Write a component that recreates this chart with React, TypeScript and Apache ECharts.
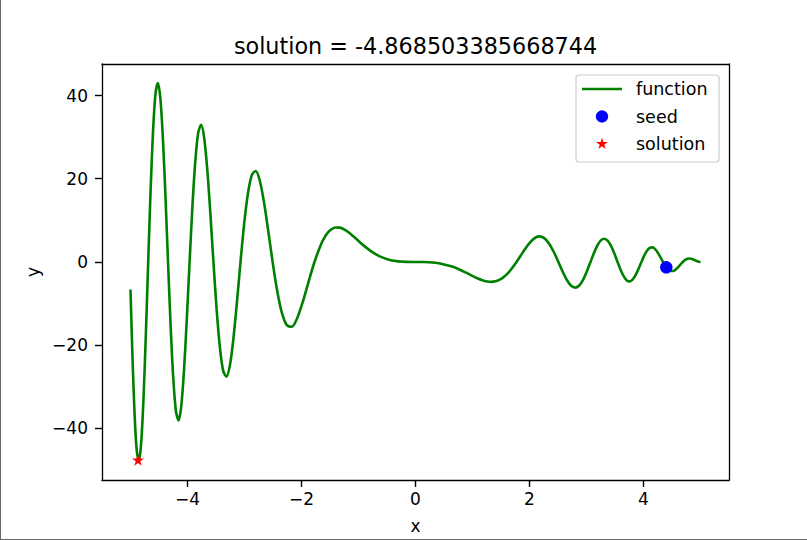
import React, { useEffect, useRef } from "react";
import * as echarts from "echarts";

// ---- data ----
const curveX: number[] = [
  -5.0, -4.974, -4.9343, -4.8944, -4.8541, -4.8135, -4.7725, -4.7312, -4.6895, -4.6474,
  -4.605, -4.5621, -4.5189, -4.4753, -4.4312, -4.3866, -4.3416, -4.2962, -4.2502, -4.2038,
  -4.1568, -4.1093, -4.0612, -4.0126, -3.9633, -3.9135, -3.863, -3.8118, -3.7599, -3.7074,
  -3.654, -3.5999, -3.5449, -3.4891, -3.4323, -3.3747, -3.316, -3.2562, -3.1953, -3.1333,
  -3.07, -3.0054, -2.9393, -2.8717, -2.8025, -2.7315, -2.6587, -2.5838, -2.5066, -2.427,
  -2.3447, -2.2594, -2.1708, -2.0784, -1.9817, -1.88, -1.7725, -1.658, -1.6, -1.535,
  -1.47, -1.4012, -1.33, -1.2533, -1.17, -1.0854, -0.98, -0.8862, -0.75, -0.6267,
  -0.45, -0.3, -0.15, 0, 0.15, 0.3, 0.45, 0.6267, 0.75, 0.8862,
  0.98, 1.0854, 1.17, 1.2533, 1.33, 1.4012, 1.47, 1.535, 1.6, 1.658,
  1.7725, 1.88, 1.9817, 2.0784, 2.1708, 2.2594, 2.3447, 2.427, 2.5066, 2.5838,
  2.6587, 2.7315, 2.8025, 2.8717, 2.9393, 3.0054, 3.07, 3.1333, 3.1953, 3.2562,
  3.316, 3.3747, 3.4323, 3.4891, 3.5449, 3.5999, 3.654, 3.7074, 3.7599, 3.8118,
  3.863, 3.9135, 3.9633, 4.0126, 4.0612, 4.1093, 4.1568, 4.2038, 4.2502, 4.2962,
  4.3416, 4.3866, 4.4312, 4.4753, 4.5189, 4.5621, 4.605, 4.6474, 4.6895, 4.7312,
  4.7725, 4.8135, 4.8541, 4.8944, 4.9343, 4.974, 5.0,
];
const curveY: number[] = [
  -6.617, -18.986, -34.661, -44.742, -47.833, -43.642, -32.978, -17.62, 0, 17.159,
  31.276, 40.304, 43.015, 39.177, 29.551, 15.758, 0, -15.284, -27.8, -35.746,
  -38.063, -34.584, -26.021, -13.84, 0, 13.35, 24.21, 31.033, 32.937, 29.825,
  22.36, 11.848, 0, -11.335, -20.466, -26.111, -27.576, -24.838, -18.517, -9.753,
  0, 9.207, 16.501, 20.885, 21.867, 19.512, 14.398, 7.499, 0, -6.898,
  -12.177, -15.154, -15.566, -13.592, -9.783, -4.95, 0, 4.225, 5.801, 7.093,
  7.899, 8.287, 8.255, 7.837, 7.072, 6.102, 4.803, 3.689, 2.3, 1.349,
  0.493, 0.143, 0.017, 0, -0.016, -0.127, -0.412, -1.049, -1.7, -2.578,
  -3.228, -3.926, -4.39, -4.696, -4.786, -4.659, -4.31, -3.761, -2.988, -2.121,
  0, 2.245, 4.23, 5.61, 6.142, 5.721, 4.402, 2.39, 0, -2.389,
  -4.402, -5.725, -6.159, -5.647, -4.283, -2.294, 0, 2.238, 4.077, 5.246,
  5.584, 5.068, 3.805, 2.018, 0, -1.929, -3.478, -4.428, -4.662, -4.184,
  -3.106, -1.627, 0, 1.516, 2.696, 3.382, 3.505, 3.093, 2.254, 1.157,
  0, -1.03, -1.783, -2.17, -2.174, -1.845, -1.286, -0.627, 0, 0.487,
  0.768, 0.83, 0.709, 0.478, 0.229, 0.05, 0,
];
const seedPoint: number[] = [4.4, -1.29];
const solutionPoint: number[] = [-4.868503385668744, -47.56];
const titleText = "solution = -4.868503385668744";
const xTicks: number[] = [-4, -2, 0, 2, 4];
const yTicks: number[] = [-40, -20, 0, 20, 40];
const xRange: number[] = [-5.5, 5.5];
const yRange: number[] = [-52.39, 47.57];
const legendNames: string[] = ["function", "seed", "solution"];

const FONT = "DejaVu Sans";
const STAR_PATH =
  "path://M50 0 L61.23 34.55 L97.55 34.55 L68.16 55.9 L79.39 90.45 L50 69.1 L20.61 90.45 L31.84 55.9 L2.45 34.55 L38.77 34.55 Z";

const fmt = (v: number) => (v < 0 ? "\u2212" + Math.abs(v) : String(v));

export default function App() {
  const ref = useRef<HTMLDivElement>(null);
  useEffect(() => {
    if (!ref.current) return;
    const chart = echarts.init(ref.current, undefined, { renderer: "svg" });
    const curve = curveX.map((x, i) => [x, curveY[i]]);
    const lx = 582, ly = 89, rowGap = 27.5;
    const spine = { color: "#000", width: 1.3 };
    const tick = { show: true, length: 7, inside: false, lineStyle: { color: "#000", width: 1.4 } };
    chart.setOption({
      animation: false,
      backgroundColor: "#ffffff",
      grid: {
        left: 102,
        right: 78,
        top: 64,
        bottom: 60,
        containLabel: false,
      },
      xAxis: [
        {
          type: "value",
          min: xRange[0],
          max: xRange[1],
          position: "bottom",
          name: "x",
          nameLocation: "middle",
          nameGap: 37,
          nameTextStyle: { fontFamily: FONT, fontSize: 17, color: "#000" },
          axisLine: { show: true, onZero: true, onZeroAxisIndex: 1, lineStyle: spine },
          splitLine: { show: false },
          axisTick: { ...tick, customValues: xTicks },
          axisLabel: {
            customValues: xTicks,
            formatter: fmt,
            margin: 10,
            fontFamily: FONT,
            fontSize: 17,
            color: "#000",
          },
        },
        {
          type: "value",
          min: 0,
          max: 1,
          position: "top",
          axisLine: { show: true, onZero: false, lineStyle: spine },
          axisTick: { show: false },
          axisLabel: { show: false },
          splitLine: { show: false },
        },
      ],
      yAxis: [
        {
          type: "value",
          min: yRange[0],
          max: yRange[1],
          position: "left",
          name: "y",
          nameLocation: "middle",
          nameGap: 60,
          nameRotate: 90,
          nameTextStyle: { fontFamily: FONT, fontSize: 17, color: "#000" },
          axisLine: { show: true, onZero: true, onZeroAxisIndex: 1, lineStyle: spine },
          splitLine: { show: false },
          axisTick: { ...tick, customValues: yTicks },
          axisLabel: {
            customValues: yTicks,
            formatter: fmt,
            margin: 14,
            fontFamily: FONT,
            fontSize: 17,
            color: "#000",
          },
        },
        {
          type: "value",
          min: 0,
          max: 1,
          position: "right",
          axisLine: { show: true, onZero: false, lineStyle: spine },
          axisTick: { show: false },
          axisLabel: { show: false },
          splitLine: { show: false },
        },
      ],
      series: [
        {
          name: legendNames[0],
          type: "line",
          data: curve,
          showSymbol: false,
          smooth: 0.3,
          lineStyle: { color: "#008000", width: 2.6 },
          itemStyle: { color: "#008000" },
          z: 2,
        },
        {
          name: legendNames[1],
          type: "scatter",
          data: [seedPoint],
          symbol: "circle",
          symbolSize: 12.5,
          itemStyle: { color: "#0000ff", opacity: 1 },
          z: 3,
        },
        {
          name: legendNames[2],
          type: "scatter",
          data: [solutionPoint],
          symbol: STAR_PATH,
          symbolSize: [12, 11.5],
          itemStyle: { color: "#ff0000", opacity: 1 },
          z: 4,
        },
      ],
      graphic: [
        {
          type: "text",
          x: 415.5,
          y: 45.5,
          style: {
            text: titleText,
            fontFamily: FONT,
            fontSize: 22.3,
            fill: "#000",
            align: "center",
            verticalAlign: "middle",
          },
        },
        {
          type: "rect",
          shape: { x: 576, y: 75, width: 143, height: 87, r: 3 },
          style: { fill: "rgba(255,255,255,0.8)", stroke: "#cccccc", lineWidth: 1.2 },
          z: 10,
        },
        {
          type: "line",
          shape: { x1: lx, y1: ly, x2: lx + 40, y2: ly },
          style: { stroke: "#008000", lineWidth: 2.6 },
          z: 11,
        },
        {
          type: "circle",
          shape: { cx: lx + 20, cy: ly + rowGap, r: 6.2 },
          style: { fill: "#0000ff" },
          z: 11,
        },
        {
          type: "polygon",
          shape: {
            points: [
              [602, 137.8], [603.39, 142.08], [607.9, 142.08], [604.25, 144.73], [605.65, 149.02],
              [602, 146.37], [598.35, 149.02], [599.75, 144.73], [596.1, 142.08], [600.61, 142.08],
            ].map((p) => [p[0], p[1] + (ly + 2 * rowGap - 144)]),
          },
          style: { fill: "#ff0000" },
          z: 11,
        },
        ...legendNames.map((n, i) => ({
          type: "text",
          x: 636,
          y: ly + i * rowGap,
          style: {
            text: n,
            fontFamily: FONT,
            fontSize: 17.5,
            fill: "#000",
            align: "left",
            verticalAlign: "middle",
          },
          z: 11,
        })),
        {
          type: "line",
          shape: { x1: 0.5, y1: 0, x2: 0.5, y2: 540 },
          style: { stroke: "#666", lineWidth: 1 },
          z: 20,
        },
        {
          type: "line",
          shape: { x1: 0, y1: 539.5, x2: 807, y2: 539.5 },
          style: { stroke: "#666", lineWidth: 1 },
          z: 20,
        },
      ],
    });
    return () => chart.dispose();
  }, []);
  return (
    <div
      ref={ref}
      style={{ position: "absolute", left: 0, top: 0, width: 807, height: 540, background: "#fff" }}
    />
  );
}
